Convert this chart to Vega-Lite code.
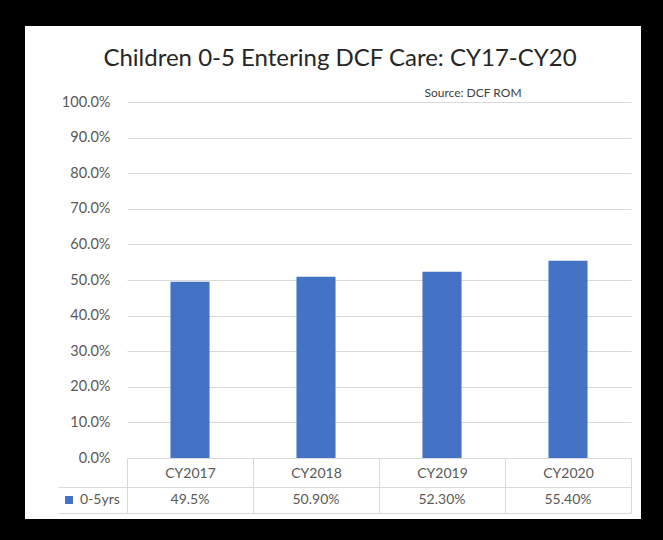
{
  "$schema": "https://vega.github.io/schema/vega-lite/v6.json",
  "width": 616,
  "height": 493,
  "autosize": {"type": "none"},
  "padding": {"left": 25, "top": 26, "right": 22, "bottom": 21},
  "background": "#000000",
  "config": {"view": {"fill": "white", "stroke": null}, "font": "Lato"},
  "title": {
    "text": "Children 0-5 Entering DCF Care:  CY17-CY20",
    "font": "Lato",
    "fontSize": 24,
    "fontWeight": "normal",
    "color": "#262626",
    "anchor": "middle",
    "frame": "group",
    "offset": -64,
    "baseline": "alphabetic",
    "dx": 7
  },
  "data": {
    "values": [
      {"year": "CY2017", "value": 0.495, "label": "49.5%", "series": "0-5yrs"},
      {"year": "CY2018", "value": 0.509, "label": "50.90%", "series": "0-5yrs"},
      {"year": "CY2019", "value": 0.523, "label": "52.30%", "series": "0-5yrs"},
      {"year": "CY2020", "value": 0.554, "label": "55.40%", "series": "0-5yrs"}
    ]
  },
  "layer": [
    {
      "mark": {"type": "bar", "width": {"band": 0.31}},
      "encoding": {
        "x": {
          "field": "year",
          "type": "nominal",
          "sort": null,
          "scale": {"type": "band", "range": [102, 606], "paddingInner": 0, "paddingOuter": 0},
          "axis": {
            "orient": "bottom",
            "offset": -61,
            "title": null,
            "labelAngle": 0,
            "labelFont": "Lato",
            "labelFontSize": 14,
            "labelColor": "#595959",
            "labelPadding": -47,
            "domain": true,
            "domainColor": "#D9D9D9",
            "ticks": true,
            "tickBand": "extent",
            "tickSize": 55,
            "tickColor": "#D9D9D9",
            "grid": false
          }
        },
        "y": {
          "field": "value",
          "type": "quantitative",
          "scale": {"domain": [0, 1], "range": [432, 76], "nice": false},
          "axis": {
            "orient": "left",
            "offset": -102,
            "values": [0, 0.1, 0.2, 0.3, 0.4, 0.5, 0.6, 0.7, 0.8, 0.9, 1],
            "format": ".1%",
            "labelFont": "Lato",
            "labelFontSize": 14.5,
            "labelColor": "#595959",
            "labelPadding": 17,
            "domain": false,
            "ticks": false,
            "grid": true,
            "gridColor": "#D9D9D9",
            "title": "Source:  DCF ROM",
            "titleAngle": 0,
            "titleX": 297,
            "titleY": 70,
            "titleAlign": "left",
            "titleBaseline": "alphabetic",
            "titleFont": "Lato",
            "titleFontSize": 12,
            "titleFontWeight": "normal",
            "titleColor": "#404040"
          }
        },
        "color": {
          "field": "series",
          "type": "nominal",
          "scale": {"range": ["#4472C4"]},
          "legend": {
            "orient": "none",
            "legendX": 37,
            "legendY": 467,
            "title": null,
            "symbolType": "square",
            "symbolSize": 64,
            "symbolStrokeWidth": 0,
            "labelFont": "Lato",
            "labelFontSize": 14,
            "labelColor": "#595959",
            "labelOffset": 4
          }
        }
      }
    },
    {
      "mark": {"type": "text", "font": "Lato", "fontSize": 14, "color": "#595959"},
      "encoding": {
        "x": {"field": "year", "type": "nominal", "sort": null},
        "y": {
          "field": "series",
          "type": "nominal",
          "scale": {"type": "band", "range": [461, 487], "paddingInner": 0, "paddingOuter": 0},
          "axis": {
            "orient": "left",
            "offset": -102,
            "labels": false,
            "title": null,
            "domain": false,
            "ticks": true,
            "tickBand": "extent",
            "tickSize": 69,
            "tickColor": "#D9D9D9",
            "grid": true,
            "gridColor": "#D9D9D9"
          }
        },
        "text": {"field": "label"}
      }
    }
  ],
  "resolve": {"scale": {"y": "independent"}}
}
